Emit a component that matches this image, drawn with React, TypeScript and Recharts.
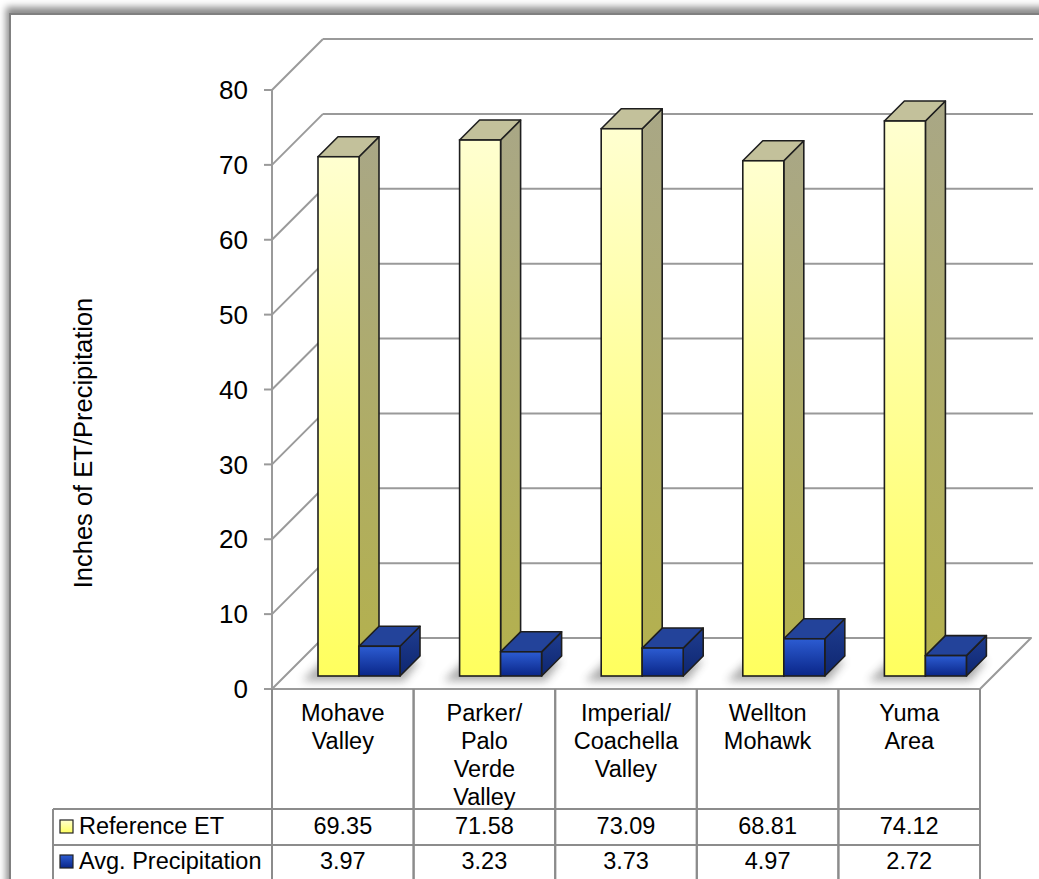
import React from 'react';
import { BarChart, Bar, XAxis, YAxis, CartesianGrid } from 'recharts';

// ---- data ----
const categories = ['Mohave Valley', 'Parker/ Palo Verde Valley', 'Imperial/ Coachella Valley', 'Wellton Mohawk', 'Yuma Area'];
const referenceET = [69.35, 71.58, 73.09, 68.81, 74.12];
const avgPrecipitation = [3.97, 3.23, 3.73, 4.97, 2.72];
const seriesNames = ['Reference ET', 'Avg. Precipitation'];
const yTicks = [0, 10, 20, 30, 40, 50, 60, 70, 80];
const yAxisTitle = 'Inches of ET/Precipitation';

const data = categories.map((name, i) => ({ name, et: referenceET[i], precip: avgPrecipitation[i] }));

// ---- layout ----
const W = 1039;
const H = 879;
const LEFT = 272;
const RIGHT = 980;
const TOP = 90;
const BOTTOM = 689;
const WALL = 51;
const BAR_DX = 16;
const BAR_DY = 13;
const BAR_D = 20;
const BAND = (RIGHT - LEFT) / categories.length;
const ROW1 = 809;
const ROW2 = 845;
const ROW3 = 881;
const FONT = '"Liberation Sans", Arial, sans-serif';
const GRID = '#9a9a9a';
const TABLE_LINE = '#8c8c8c';

const palettes = {
  et: { front: 'url(#yFront)', side: 'url(#ySide)', top: '#c3c19b' },
  precip: { front: 'url(#bFront)', side: 'url(#bSide)', top: '#23439a' },
};

function makeShape(key: 'et' | 'precip') {
  return (props: any) => {
    const { x, y, width, height } = props;
    if (width == null || height == null) return <g />;
    const p = palettes[key];
    const fx = x + BAR_DX;
    const fy = y - BAR_DY;
    const bot = fy + height;
    const w = width;
    const d = BAR_D;
    const stroke = '#1e1e1e';
    return (
      <g>
        {key === 'et' && (
          <polygon
            points={`${fx - 16},${bot + 5} ${fx + 2 * w + 4},${bot + 5} ${fx + 2 * w + d},${bot - d + 4} ${fx + d - 14},${bot - d + 4}`}
            fill="#444"
            opacity={0.45}
            filter="url(#softShadow)"
          />
        )}
        <polygon
          points={`${fx + w},${fy} ${fx + w + d},${fy - d} ${fx + w + d},${bot - d} ${fx + w},${bot}`}
          fill={p.side}
          stroke={stroke}
          strokeWidth={1.6}
          strokeLinejoin="round"
        />
        <polygon
          points={`${fx},${fy} ${fx + w},${fy} ${fx + w + d},${fy - d} ${fx + d},${fy - d}`}
          fill={p.top}
          stroke={stroke}
          strokeWidth={1.6}
          strokeLinejoin="round"
        />
        <rect x={fx} y={fy} width={w} height={height} fill={p.front} stroke={stroke} strokeWidth={1.6} />
      </g>
    );
  };
}

const gridLine = (props: any) => {
  const { x1, x2, y1, index } = props;
  const y = y1;
  const isFloor = Math.abs(y - BOTTOM) < 2;
  if (isFloor) {
    return (
      <g key={`g-${index}`}>
        <polygon
          points={`${x1},${y} ${x2},${y} ${x2 + WALL},${y - WALL} ${x1 + WALL},${y - WALL}`}
          fill="#ffffff"
          stroke={GRID}
          strokeWidth={2}
          strokeLinejoin="round"
        />
      </g>
    );
  }
  return (
    <g key={`g-${index}`}>
      <line x1={x1} y1={y} x2={x1 + WALL} y2={y - WALL} stroke={GRID} strokeWidth={2} />
      <line x1={x1 + WALL} y1={y - WALL} x2={x2 + WALL + 2} y2={y - WALL} stroke={GRID} strokeWidth={2} />
    </g>
  );
};

const TableTick = (props: any) => {
  const { x, index, payload } = props;
  const left = x - BAND / 2;
  const right = x + BAND / 2;
  const words = String(payload.value).split(' ');
  const txt = { fontFamily: FONT, fontSize: 23.5, fill: '#000' } as const;
  return (
    <g>
      {index === 0 && (
        <g>
          <line x1={53} y1={ROW1} x2={left} y2={ROW1} stroke={TABLE_LINE} strokeWidth={2} />
          <line x1={53} y1={ROW2} x2={left} y2={ROW2} stroke={TABLE_LINE} strokeWidth={2} />
          <line x1={53} y1={ROW3} x2={left} y2={ROW3} stroke={TABLE_LINE} strokeWidth={2} />
          <line x1={53} y1={ROW1} x2={53} y2={H} stroke={TABLE_LINE} strokeWidth={2} />
          <rect x={60} y={820} width={13} height={13} fill="url(#yFront)" stroke="#222" strokeWidth={1.2} />
          <rect x={60} y={855} width={13} height={13} fill="url(#bFront)" stroke="#222" strokeWidth={1.2} />
          <text x={79} y={834} {...txt}>{seriesNames[0]}</text>
          <text x={79} y={869} {...txt}>{seriesNames[1]}</text>
        </g>
      )}
      <line x1={left} y1={BOTTOM} x2={left} y2={H} stroke={TABLE_LINE} strokeWidth={2} />
      <line x1={right} y1={BOTTOM} x2={right} y2={H} stroke={TABLE_LINE} strokeWidth={2} />
      <line x1={left} y1={ROW1} x2={right} y2={ROW1} stroke={TABLE_LINE} strokeWidth={2} />
      <line x1={left} y1={ROW2} x2={right} y2={ROW2} stroke={TABLE_LINE} strokeWidth={2} />
      <line x1={left} y1={ROW3} x2={right} y2={ROW3} stroke={TABLE_LINE} strokeWidth={2} />
      <text textAnchor="middle" {...txt}>
        {words.map((w, k) => (
          <tspan key={k} x={x} y={721 + k * 28}>{w}</tspan>
        ))}
      </text>
      <text x={x} y={834} textAnchor="middle" {...txt}>{referenceET[index].toFixed(2)}</text>
      <text x={x} y={869} textAnchor="middle" {...txt}>{avgPrecipitation[index].toFixed(2)}</text>
    </g>
  );
};

const YTitle = () => (
  <text
    x={92}
    y={443}
    transform="rotate(-90 92 443)"
    textAnchor="middle"
    fontFamily={FONT}
    fontSize={25.5}
    fill="#000"
  >
    {yAxisTitle}
  </text>
);

export default function App() {
  return (
    <div style={{ position: 'absolute', left: 0, top: 0, width: W, height: H, overflow: 'hidden', background: '#fff' }}>
      <div
        style={{
          position: 'absolute',
          left: 9,
          top: 13,
          width: 1200,
          height: 1000,
          border: '2px solid #808080',
          boxShadow: '-2px -5px 7px 1px rgba(0,0,0,0.45)',
          background: '#fff',
        }}
      />
      <div style={{ position: 'absolute', left: 0, top: 0 }}>
        <BarChart
          width={W}
          height={H}
          data={data}
          margin={{ top: TOP, right: W - RIGHT, bottom: 0, left: 0 }}
          barSize={41}
          barGap={0}
        >
          <defs>
            <linearGradient id="yFront" x1="0" y1="0" x2="0" y2="1">
              <stop offset="0" stopColor="#ffffd0" />
              <stop offset="1" stopColor="#ffff5e" />
            </linearGradient>
            <linearGradient id="ySide" x1="0" y1="0" x2="0" y2="1">
              <stop offset="0" stopColor="#a9a786" />
              <stop offset="1" stopColor="#b4b14c" />
            </linearGradient>
            <linearGradient id="bFront" x1="0" y1="0" x2="0" y2="1">
              <stop offset="0" stopColor="#2c5cd2" />
              <stop offset="1" stopColor="#0a2688" />
            </linearGradient>
            <linearGradient id="bSide" x1="0" y1="0" x2="0" y2="1">
              <stop offset="0" stopColor="#1f3d90" />
              <stop offset="1" stopColor="#0e2670" />
            </linearGradient>
            <filter id="softShadow" x="-50%" y="-50%" width="200%" height="200%">
              <feGaussianBlur stdDeviation="4" />
            </filter>
          </defs>
          <CartesianGrid vertical={false} horizontal={gridLine} />
          <XAxis
            dataKey="name"
            height={H - BOTTOM}
            axisLine={false}
            tickLine={false}
            interval={0}
            tick={(p: any) => <TableTick {...p} />}
          />
          <YAxis
            width={LEFT}
            domain={[0, 80]}
            ticks={yTicks}
            tickSize={8}
            tickMargin={16}
            axisLine={{ stroke: GRID, strokeWidth: 2 }}
            tickLine={{ stroke: GRID, strokeWidth: 2 }}
            tick={{ fontSize: 26, fill: '#000', fontFamily: FONT }}
            label={{ content: () => <YTitle /> }}
          />
          <Bar dataKey="et" name={seriesNames[0]} isAnimationActive={false} shape={makeShape('et')} />
          <Bar dataKey="precip" name={seriesNames[1]} isAnimationActive={false} shape={makeShape('precip')} />
        </BarChart>
      </div>
    </div>
  );
}
